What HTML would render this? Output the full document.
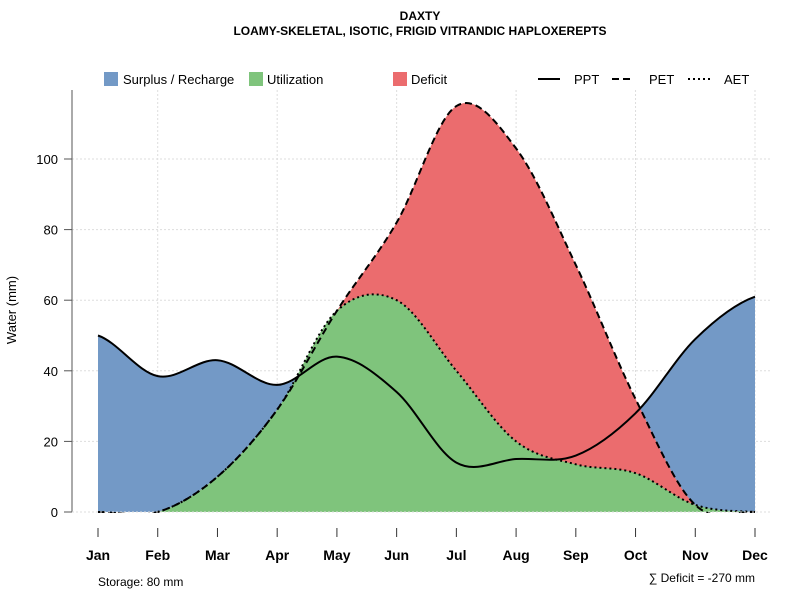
<!DOCTYPE html>
<html><head><meta charset="utf-8"><style>
body{margin:0;background:#fff;font-family:"Liberation Sans",sans-serif}
svg text{font-family:"Liberation Sans",sans-serif}
</style></head><body>
<svg id="c" width="800" height="600">
<defs><clipPath id="clipA"><rect x="0" y="0" width="800" height="512"/></clipPath><clipPath id="clipL"><rect x="0" y="0" width="800" height="513"/></clipPath></defs>
<text x="420" y="20" text-anchor="middle" font-size="12" font-weight="bold">DAXTY</text>
<text x="420" y="35" text-anchor="middle" font-size="12" font-weight="bold">LOAMY-SKELETAL, ISOTIC, FRIGID VITRANDIC HAPLOXEREPTS</text>
<g id="grid"></g><g id="areas" clip-path="url(#clipA)"></g><g id="lines" clip-path="url(#clipL)"></g><g id="axes"></g>
<g font-size="13">
<rect x="104" y="72" width="14" height="14" fill="#7399c6"/>
<text x="123" y="84">Surplus / Recharge</text>
<rect x="249" y="72" width="14" height="14" fill="#7fc47c"/>
<text x="267" y="84">Utilization</text>
<rect x="393" y="72" width="14" height="14" fill="#eb6c6e"/>
<text x="411" y="84">Deficit</text>
<line x1="538" y1="79" x2="560" y2="79" stroke="#000" stroke-width="2"/>
<text x="574" y="84">PPT</text>
<line x1="612" y1="79" x2="634" y2="79" stroke="#000" stroke-width="2" stroke-dasharray="7,4"/>
<text x="649" y="84">PET</text>
<line x1="688" y1="79" x2="710" y2="79" stroke="#000" stroke-width="2" stroke-dasharray="2,3"/>
<text x="724" y="84">AET</text>
</g>
<text x="16" y="310" font-size="13" text-anchor="middle" transform="rotate(-90 16 310)">Water (mm)</text>
<text x="98" y="586" font-size="12">Storage: 80 mm</text>
<text x="755" y="582" font-size="12" text-anchor="end">∑ Deficit = -270 mm</text>
</svg>
<script>
const months=["Jan","Feb","Mar","Apr","May","Jun","Jul","Aug","Sep","Oct","Nov","Dec"];
const ppt=[50,38.5,43,36,44,34,14,15,16,28,49,61];
const pet=[0,0,10,29,57,82,115,103,70,32,2,0];
const aet=[0,0,10,29,57,60,40,20,13.5,11,2,0];
const yTicks=[0,20,40,60,80,100];
const NS="http://www.w3.org/2000/svg";
const X=i=>98+i*(755-98)/11, Y=v=>512-v*3.53;
function mk(p,t,a){const e=document.createElementNS(NS,t);for(const k in a)e.setAttribute(k,a[k]);p.appendChild(e);return e;}
function curve(d){let s="M"+X(0)+","+Y(d[0]);for(let i=0;i<d.length-1;i++){const p0=d[Math.max(0,i-1)],p1=d[i],p2=d[i+1],p3=d[Math.min(d.length-1,i+2)];const dx=(X(1)-X(0))/3;s+=` C${X(i)+dx},${Y(p1+(p2-p0)/6)} ${X(i+1)-dx},${Y(p2-(p3-p1)/6)} ${X(i+1)},${Y(p2)}`;}return s;}
function area(d){return curve(d)+` L${X(11)},${Y(0)} L${X(0)},${Y(0)} Z`;}
const g=document.getElementById('grid'),ar=document.getElementById('areas'),ln=document.getElementById('lines'),ax=document.getElementById('axes');
yTicks.forEach(v=>{const l=mk(g,'line',{x1:72,x2:770,y1:Y(v),y2:Y(v),stroke:'#ddd','stroke-dasharray':'2,2'});


const t=mk(ax,'line',{x1:64,x2:72,y1:Y(v),y2:Y(v),stroke:'#555'});


const tx=mk(ax,'text',{x:58,y:Y(v)+5,'text-anchor':'end','font-size':13});tx.textContent=v;

});
months.forEach((m,i)=>{if(i%2==1){const l=mk(g,'line',{x1:X(i),x2:X(i),y1:90,y2:512,stroke:'#ddd','stroke-dasharray':'2,2'});

}
const t=mk(ax,'line',{x1:X(i),x2:X(i),y1:528,y2:537,stroke:'#333'});


const tx=mk(ax,'text',{x:X(i),y:560,'text-anchor':'middle','font-size':14,'font-weight':'bold'});tx.textContent=m;

});
const al=mk(ax,'line',{x1:72,x2:72,y1:90,y2:512,stroke:'#555'});


const a1=mk(ar,'path',{d:area(ppt),fill:'#7399c6'});


const a2=mk(ar,'path',{d:area(pet),fill:'#eb6c6e'});


const a3=mk(ar,'path',{d:area(aet),fill:'#7fc47c'});


const bl=mk(ax,'line',{x1:72,x2:770,y1:512,y2:512,stroke:'#ddd','stroke-dasharray':'2,2'});


const l1=mk(ln,'path',{d:curve(pet),fill:'none',stroke:'#000','stroke-width':2,'stroke-dasharray':'7,4'});


const l2=mk(ln,'path',{d:curve(aet),fill:'none',stroke:'#000','stroke-width':2,'stroke-dasharray':'2,3'});


const l3=mk(ln,'path',{d:curve(ppt),fill:'none',stroke:'#000','stroke-width':2});


</script>
</body></html>
